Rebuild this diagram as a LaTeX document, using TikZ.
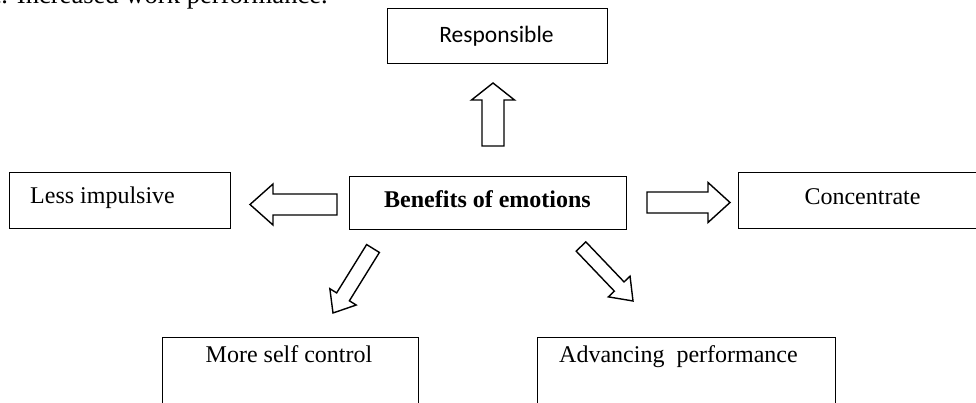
\documentclass[tikz,border=0pt]{standalone}
\usepackage{fontspec}
\setmainfont{Liberation Serif}
\newfontfamily\calfont{Carlito}
\usetikzlibrary{calc}
\tikzset{
  boxnode/.style={draw=black, line width=1.4pt, rectangle, inner sep=0pt, anchor=north west},
  txt/.style={inner sep=0pt, font=\fontsize{24}{28}\selectfont},
  blockarrowstyle/.style={draw=black, line width=1.4pt, fill=white, line join=miter},
}
% \myblockarrow{start}{tip}{shaft half width}{head half width}{head length}
\newcommand{\myblockarrow}[5]{%
  \coordinate (ba-b) at ($(#2)!#5!(#1)$);
  \draw[blockarrowstyle]
    ($(#1)!#3!90:(#2)$) --
    ($(ba-b)!#3!90:(#2)$) --
    ($(ba-b)!#4!90:(#2)$) --
    (#2) --
    ($(ba-b)!#4!-90:(#2)$) --
    ($(ba-b)!#3!-90:(#2)$) --
    ($(#1)!#3!-90:(#2)$) -- cycle;
}
\begin{document}
\begin{tikzpicture}[x=1pt,y=-1pt]
\useasboundingbox[fill=white] (0,0) rectangle (976,403);

% top clipped line of text
\node[inner sep=0pt, anchor=base east, font=\fontsize{26.6}{30}\selectfont] (toptext) at (328,4) {c. Increased work performance.};

% boxes
\node[boxnode, minimum width=220pt, minimum height=55pt] (resp) at (387,8) {};
\node[boxnode, minimum width=221pt, minimum height=56pt] (less) at (9,172) {};
\node[boxnode, minimum width=277pt, minimum height=53pt] (benef) at (349,176) {};
\node[boxnode, minimum width=250pt, minimum height=56pt] (conc) at (738,172) {};
\node[boxnode, minimum width=256pt, minimum height=80pt] (self) at (162,337) {};
\node[boxnode, minimum width=298pt, minimum height=80pt] (adv) at (537,337) {};

% texts
\node[txt, anchor=base, font=\calfont\fontsize{23.5}{28}\selectfont] (resptxt) at (496.5,43) {Responsible};
\node[txt, anchor=base west] (lesstxt) at (30,203.5) {Less impulsive};
\node[txt, anchor=base, font=\bfseries\fontsize{24}{28}\selectfont] (beneftxt) at (487.5,208) {Benefits of emotions};
\node[txt, anchor=base] (conctxt) at (862.5,205) {Concentrate};
\node[txt, anchor=base] (selftxt) at (289,362) {More self control};
\node[txt, anchor=base west] (advtxt) at (559,362) {Advancing\ \ performance};

% block arrows
\coordinate (upS) at (493,146);   \coordinate (upT) at (493,83);
\coordinate (lfS) at (337,204.5); \coordinate (lfT) at (250,204.5);
\coordinate (rtS) at (647,202.5); \coordinate (rtT) at (730,202.5);
\coordinate (dlS) at (373,248.5); \coordinate (dlT) at (333,313);
\coordinate (drS) at (581,246.5); \coordinate (drT) at (633,301);

\myblockarrow{upS}{upT}{11pt}{21.5pt}{17pt}
\myblockarrow{lfS}{lfT}{10.5pt}{20.5pt}{23pt}
\myblockarrow{rtS}{rtT}{10.5pt}{20pt}{22pt}
\myblockarrow{dlS}{dlT}{7.5pt}{15.5pt}{19pt}
\myblockarrow{drS}{drT}{6.7pt}{15pt}{20pt}
\end{tikzpicture}
\end{document}
